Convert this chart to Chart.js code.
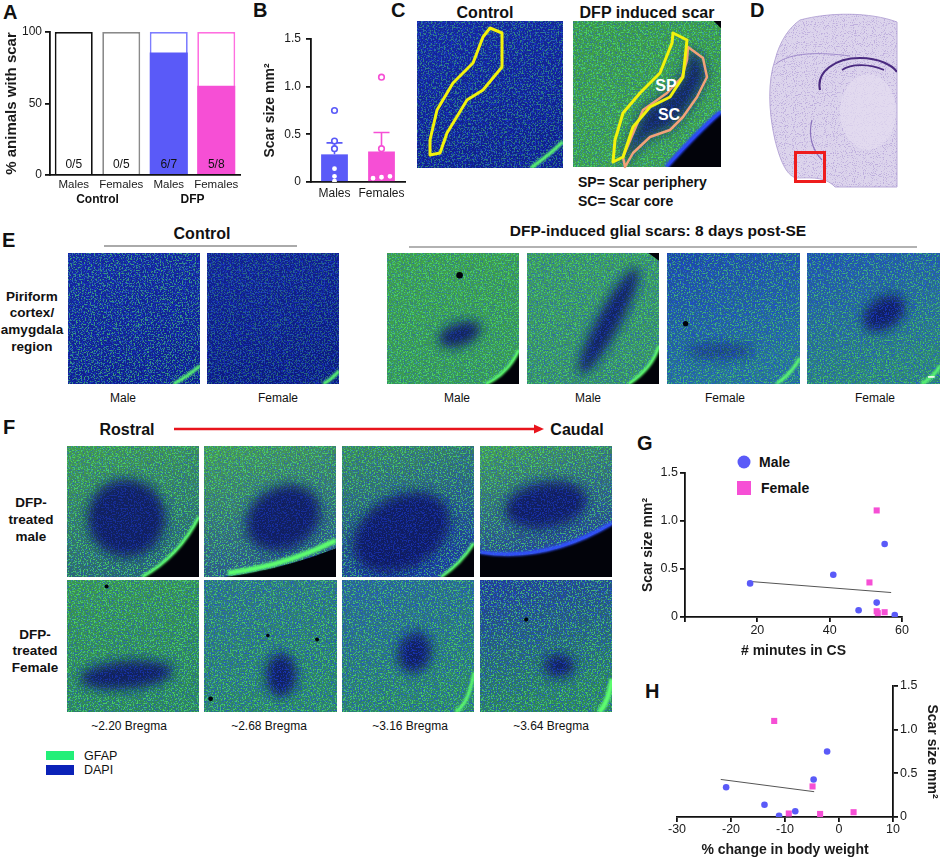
<!DOCTYPE html>
<html>
<head>
<meta charset="utf-8">
<script src="https://cdn.jsdelivr.net/npm/chart.js@4.4.1/dist/chart.umd.min.js"></script>
<style>
  html, body { margin: 0; padding: 0; background: #fff; }
  #page { position: relative; width: 941px; height: 860px; overflow: hidden; }
  #page canvas { position: absolute; }
  #deco { position: absolute; left: 0; top: 0; }
</style>
</head>
<body>
<div id="page">
  <svg id="deco" width="941" height="860" xmlns="http://www.w3.org/2000/svg"></svg>
  <canvas id="chartA" width="260" height="215" style="left:0;top:0"></canvas>
  <canvas id="chartB" width="180" height="210" style="left:250px;top:0"></canvas>
  <canvas id="chartG" width="311" height="230" style="left:630px;top:430px"></canvas>
  <canvas id="chartH" width="311" height="190" style="left:630px;top:670px"></canvas>
</div>
<script>
// ---- data ----

// A: % animals with scar
const groupA = ['Males', 'Females', 'Males', 'Females'];
const treatA = ['Control', 'DFP'];
const allPctA = [100, 100, 100, 100];
const scarPctA = [0, 0, 85.7, 62.5];
const countA = ['0/5', '0/5', '6/7', '5/8'];
const ticksPctA = [0, 50, 100];

// B: scar size per sex
const sexB = ['Males', 'Females'];
const meanB = [0.29, 0.32];
const semB = [0.12, 0.20];
const maleB = [0.75, 0.43, 0.35, 0.14, 0.06, 0.01];
const femaleB = [1.10, 0.35, 0.06, 0.05, 0.04];
const ticksScar = [0, 0.5, 1.0, 1.5];

// G: scar size vs minutes in CS
const maleMinG = [18, 41, 55.2, 48, 53, 58];
const maleScarG = [0.35, 0.44, 0.76, 0.07, 0.15, 0.02];
const femaleMinG = [53, 51, 53, 53.3, 55.2];
const femaleScarG = [1.11, 0.36, 0.06, 0.04, 0.05];
const fitG = [[18, 0.37], [57, 0.255]];
const ticksMinG = [0, 20, 40, 60];

// H: scar size vs % change in body weight
const maleWtH = [-20.9, -13.8, -11.1, -8.1, -4.7, -2.2];
const maleScarH = [0.34, 0.14, 0.015, 0.065, 0.43, 0.75];
const femaleWtH = [-12.0, -9.3, -4.9, -3.5, 2.7];
const femaleScarH = [1.10, 0.04, 0.35, 0.035, 0.055];
const fitH = [[-21.9, 0.43], [-4.6, 0.29]];
const ticksWtH = [-30, -20, -10, 0, 10];

// ---- colours ----
const BLUE = '#5a5af8', PINK = '#f64fd5', INK = '#111';
const FONT = "'Liberation Sans', Arial, sans-serif";

// ---- decoration: micrographs, labels, panel letters ----
let gid = 0;
function micro(x, y, w, h, p) {
  const id = 'mg' + (gid++);
  let s = `<svg x="${x}" y="${y}" width="${w}" height="${h}" viewBox="0 0 100 100" preserveAspectRatio="none">`;
  s += `<defs><linearGradient id="${id}" x1="0" y1="0" x2="0.3" y2="1"><stop offset="0" stop-color="${p.top}"/><stop offset="1" stop-color="${p.bot}"/></linearGradient></defs>`;
  s += `<rect width="100" height="100" fill="url(#${id})"/>`;
  s += `<rect width="100" height="100" filter="url(#nG)" opacity="${p.g}"/>`;
  (p.blobs || []).forEach(b => {
    s += `<ellipse cx="${b[0]}" cy="${b[1]}" rx="${b[2]}" ry="${b[3]}" transform="rotate(${b[4]} ${b[0]} ${b[1]})" fill="#0b1460" opacity="${b[5] || 0.9}" filter="url(#bl)"/>`;
  });
  if (p.scar) s += `<path d="${p.scar}" fill="#0b1460" opacity="0.85" filter="url(#bl)"/>`;
  s += `<rect width="100" height="100" filter="url(#nB)" opacity="${p.b}"/>`;
  if (p.black) s += `<path d="${p.black}" fill="#02030a"/>`;
  if (p.rim) s += `<path d="${p.rim}" fill="none" stroke="${p.rimColor || '#5dff6e'}" stroke-width="${p.rimW || 2.5}" filter="url(#bl2)"/>`;
  (p.dots || []).forEach(d => { s += `<circle cx="${d[0]}" cy="${d[1]}" r="${d[2]}" fill="#02030a"/>`; });
  if (p.bar) s += `<rect x="91" y="94" width="5" height="1.2" fill="#fff"/>`;
  return s + '</svg>';
}
function txt(x, y, str, size, weight, anchor, color) {
  return `<text x="${x}" y="${y}" font-family="${FONT}" font-size="${size}" font-weight="${weight || 'normal'}" text-anchor="${anchor || 'middle'}" dominant-baseline="central" fill="${color || '#111'}">${str}</text>`;
}

const ctrlLook = { top: '#15279c', bot: '#0f1f8c', g: 0.5, b: 0.45 };
let svg = `<defs>
  <filter id="nG" x="0" y="0" width="1" height="1" color-interpolation-filters="sRGB">
    <feTurbulence type="fractalNoise" baseFrequency="0.9" numOctaves="2" seed="4"/>
    <feColorMatrix type="matrix" values="0 0 0 0 0.3  0 0 0 0 0.85  0 0 0 0 0.45  10 0 0 0 -5.3"/>
    <feGaussianBlur stdDeviation="0.25"/>
  </filter>
  <filter id="nB" x="0" y="0" width="1" height="1" color-interpolation-filters="sRGB">
    <feTurbulence type="fractalNoise" baseFrequency="0.9" numOctaves="2" seed="11"/>
    <feColorMatrix type="matrix" values="0 0 0 0 0.12  0 0 0 0 0.25  0 0 0 0 0.95  10 0 0 0 -5.2"/>
    <feGaussianBlur stdDeviation="0.25"/>
  </filter>
  <filter id="nP" x="0" y="0" width="1" height="1" color-interpolation-filters="sRGB">
    <feTurbulence type="fractalNoise" baseFrequency="0.9" numOctaves="1" seed="2"/>
    <feColorMatrix type="matrix" values="0 0 0 0 0.6  0 0 0 0 0.5  0 0 0 0 0.8  8 0 0 0 -4.4"/>
  </filter>
  <filter id="bl" x="-50%" y="-50%" width="200%" height="200%"><feGaussianBlur stdDeviation="4"/></filter>
  <filter id="bl2" x="-20%" y="-20%" width="140%" height="140%"><feGaussianBlur stdDeviation="0.8"/></filter>
  <clipPath id="brainClip"><path d="M800,20 C830,12 870,12 897,22 L897,187 L835,187 C825,176 810,178 796,178 C786,175 780,160 775,140 C768,110 768,80 775,60 C780,40 790,27 800,20 Z"/></clipPath>
</defs>`;

// panel letters
[['A', 3, 12], ['B', 253, 10], ['C', 391, 10], ['D', 750, 10], ['E', 2, 240], ['F', 3, 427], ['G', 637, 443], ['H', 645, 691]]
  .forEach(l => { svg += txt(l[1], l[2], l[0], 20, 'bold', 'start'); });

// C
svg += txt(485, 12, 'Control', 16, 'bold');
svg += txt(647, 12, 'DFP induced scar', 16, 'bold');
svg += micro(417, 21, 146, 147, Object.assign({ rim: 'M78 100 Q92 90 100 82' }, ctrlLook));
svg += micro(573, 21, 148, 146, {
  top: '#3e9e45', bot: '#40a04a', g: 0.8, b: 0.35,
  scar: 'M77.7,17.8 L87.8,25.3 L90.5,38.4 L83.8,52.1 L74.3,65.8 L65.5,74.7 L52,79.5 L40.5,90.4 L35.1,100 L33.8,93.2 L47.3,61 L63.5,49.3 L73.6,38.4 L77,26.7 Z',
  black: 'M100 63 Q85 76 64 100 L100 100 Z M95 0 L100 0 L100 5 Z',
  rim: 'M100 62 Q85 75 63 100', rimColor: '#2a44ff', rimW: 3
});
svg += `<polygon transform="translate(417,21)" points="73,7 85,12 85,46 66,69 50,79 30,112 23,132 13,134 13,119 20,89 36,62 56,42 66,16" fill="none" stroke="#f2f20c" stroke-width="3" stroke-linejoin="round"/>`;
svg += `<polygon transform="translate(573,21)" points="115,26 130,37 134,56 124,76 110,96 97,109 77,116 60,132 52,146 50,136 70,89 94,72 109,56 114,39" fill="none" stroke="#f2a27a" stroke-width="2.5" stroke-linejoin="round"/>`;
svg += `<polygon transform="translate(573,21)" points="100,12 114,19 110,56 97,76 77,86 60,106 50,136 40,141 42,119 50,92 67,72 87,52 99,22" fill="none" stroke="#f2f20c" stroke-width="3" stroke-linejoin="round"/>`;
svg += txt(666, 85, 'SP', 16, 'bold', 'middle', '#fff');
svg += txt(669, 114, 'SC', 16, 'bold', 'middle', '#fff');
svg += txt(578, 182, 'SP= Scar periphery', 14, 'bold', 'start');
svg += txt(578, 201, 'SC= Scar core', 14, 'bold', 'start');

// D: brain section
svg += `<path d="M800,20 C830,12 870,12 897,22 L897,187 L835,187 C825,176 810,178 796,178 C786,175 780,160 775,140 C768,110 768,80 775,60 C780,40 790,27 800,20 Z" fill="#dcd4ec" stroke="#b9aad8" stroke-width="1"/>`;
svg += `<g clip-path="url(#brainClip)"><rect x="760" y="10" width="140" height="180" filter="url(#nP)" opacity="0.45"/>
  <ellipse cx="868" cy="112" rx="28" ry="38" fill="#e4ddf1" opacity="0.7"/>
  <path d="M776,64 C790,52 820,52 850,56" stroke="#a08ccb" stroke-width="1" fill="none"/>
  <path d="M820,90 C816,72 835,58 860,58 C880,58 893,66 897,72" stroke="#4a2a80" stroke-width="2.2" fill="none"/>
  <path d="M842,70 C852,63 870,64 884,70" stroke="#4a2a80" stroke-width="1.6" fill="none"/>
  <path d="M812,120 C808,135 812,150 822,160" stroke="#8a72bc" stroke-width="1.2" fill="none"/></g>`;
svg += `<rect x="795.5" y="152.5" width="29" height="29" fill="none" stroke="#ee1c1c" stroke-width="3"/>`;

// E
svg += txt(202, 233, 'Control', 16, 'bold');
svg += `<line x1="104" y1="246" x2="297" y2="246" stroke="#aaa" stroke-width="2"/>`;
svg += txt(658, 230, 'DFP-induced glial scars: 8 days post-SE', 15.5, 'bold');
svg += `<line x1="409" y1="247" x2="917" y2="247" stroke="#999" stroke-width="1.5"/>`;
['Piriform', 'cortex/', 'amygdala', 'region'].forEach((w, i) => { svg += txt(32, 296 + i * 16.7, w, 13.5, 'bold'); });
svg += micro(68, 253, 132, 131, Object.assign({ rim: 'M80 100 Q92 93 100 86' }, ctrlLook, { g: 0.65 }));
svg += micro(207, 253, 132, 131, Object.assign({ rim: 'M88 100 Q95 96 100 90' }, ctrlLook, { top: '#12228f', bot: '#0c1a80', g: 0.4 }));
svg += micro(387, 253, 132, 131, { top: '#41a348', bot: '#3a9c50', g: 0.8, b: 0.35, blobs: [[55, 62, 17, 9, -20]], black: 'M100 75 L100 100 L76 100 Q92 92 100 75 Z', rim: 'M100 74 Q92 92 75 100', dots: [[55, 17, 2.5]] });
svg += micro(527, 253, 132, 131, { top: '#40a058', bot: '#3a9460', g: 0.75, b: 0.45, blobs: [[62, 52, 9, 46, 28]], black: 'M100 72 L100 100 L78 100 Q95 88 100 72 Z M92 0 L100 0 L100 6 Z', rim: 'M100 71 Q95 88 77 100' });
svg += micro(667, 253, 133, 131, { top: '#1c4aa0', bot: '#287a8a', g: 0.65, b: 0.6, blobs: [[40, 75, 25, 6, 0, 0.5]], rim: 'M82 100 Q94 92 100 80', dots: [[14, 54, 2]] });
svg += micro(807, 253, 133, 131, { top: '#2055a6', bot: '#2f8a70', g: 0.65, b: 0.55, blobs: [[58, 46, 18, 12, -35]], rim: 'M86 100 Q96 94 100 86', bar: true });
[[123, 'Male'], [278, 'Female'], [457, 'Male'], [588, 'Male'], [725, 'Female'], [875, 'Female']]
  .forEach(l => { svg += txt(l[0], 398, l[1], 12); });

// F
svg += txt(127, 429, 'Rostral', 16, 'bold');
svg += txt(577, 429, 'Caudal', 16, 'bold');
svg += `<line x1="174" y1="429" x2="536" y2="429" stroke="#e8141c" stroke-width="2.5"/><polygon points="544,429 534,424.5 534,433.5" fill="#e8141c"/>`;
['DFP-', 'treated', 'male'].forEach((w, i) => { svg += txt(31, 502 + i * 17, w, 13.5, 'bold'); });
['DFP-', 'treated', 'Female'].forEach((w, i) => { svg += txt(35, 634 + i * 16.5, w, 13.5, 'bold'); });
const fx = [67, 204, 342, 480];
svg += micro(fx[0], 446, 132, 131, { top: '#46a148', bot: '#2a6a6a', g: 0.8, b: 0.4, blobs: [[45, 55, 30, 30, -40]], black: 'M100 55 L100 100 L58 100 Q85 85 100 55 Z', rim: 'M100 54 Q85 84 57 100' });
svg += micro(fx[1], 446, 132, 131, { top: '#4aa54a', bot: '#2c5a80', g: 0.8, b: 0.4, blobs: [[60, 55, 30, 24, -30]], black: 'M100 78 L100 100 L15 100 Q60 94 100 78 Z', rim: 'M100 72 Q60 92 18 97', rimW: 4 });
svg += micro(fx[2], 446, 132, 131, { top: '#3f9550', bot: '#1c3f90', g: 0.75, b: 0.45, blobs: [[45, 66, 40, 28, -30]], black: 'M100 75 L100 100 L76 100 Q90 90 100 75 Z', rim: 'M100 74 Q90 90 75 100' });
svg += micro(fx[3], 446, 132, 131, { top: '#4aa54a', bot: '#203a90', g: 0.8, b: 0.45, blobs: [[50, 45, 32, 18, -10]], black: 'M0 82 Q50 90 100 60 L100 100 L0 100 Z', rim: 'M0 81 Q50 89 100 59', rimColor: '#3050ff', rimW: 3 });
svg += micro(fx[0], 580, 132, 132, { top: '#3d9a4a', bot: '#2e8a55', g: 0.8, b: 0.45, blobs: [[45, 72, 36, 11, -5]], dots: [[30, 5, 1.5]] });
svg += micro(fx[1], 580, 133, 132, { top: '#2f7a78', bot: '#2e8a60', g: 0.75, b: 0.55, blobs: [[58, 72, 12, 17, 0]], dots: [[48, 42, 1.3], [85, 45, 1.5], [5, 90, 1.8]] });
svg += micro(fx[2], 580, 132, 132, { top: '#2a6a8a', bot: '#2e8a60', g: 0.75, b: 0.55, blobs: [[55, 55, 13, 16, 15]], rim: 'M100 70 Q96 94 86 100' });
svg += micro(fx[3], 580, 132, 132, { top: '#203a90', bot: '#2e8a55', g: 0.75, b: 0.55, blobs: [[60, 65, 12, 9, 0]], rim: 'M100 75 Q97 94 90 100', rimW: 4, dots: [[35, 30, 1.6]] });
[[129, '~2.20 Bregma'], [269, '~2.68 Bregma'], [410, '~3.16 Bregma'], [551, '~3.64 Bregma']]
  .forEach(l => { svg += txt(l[0], 726, l[1], 12); });
svg += `<rect x="46" y="751" width="28" height="9" fill="#22ef78"/><rect x="46" y="765" width="28" height="10" fill="#0b22b8"/>`;
svg += txt(84, 756, 'GFAP', 12.5, 'normal', 'start');
svg += txt(84, 770, 'DAPI', 12.5, 'normal', 'start');

// G legend
svg += `<circle cx="744" cy="462" r="6.5" fill="${BLUE}"/><rect x="737" y="481" width="14" height="14" fill="${PINK}"/>`;
svg += txt(759, 462, 'Male', 14, 'bold', 'start');
svg += txt(761, 488, 'Female', 14, 'bold', 'start');

document.getElementById('deco').innerHTML = svg;

// ---- charts ----
Chart.defaults.font.family = FONT;
Chart.defaults.color = '#1a1a1a';
Chart.defaults.animation = false;
Chart.defaults.plugins.legend.display = false;
Chart.defaults.plugins.tooltip.enabled = false;

const border = { color: INK, width: 1.8 };
const noGrid = { display: false, drawTicks: false, tickLength: 0 };
function tickMarks() {
  return { display: true, drawOnChartArea: false, drawTicks: true, tickLength: 5, color: INK, lineWidth: 1.8 };
}
function fixedTicks(vals) {
  return s => { s.ticks = vals.map(v => ({ value: v })); };
}
function scarLabel(v) { return v === 0 ? '0' : v.toFixed(1); }
function zip(xs, ys) { return xs.map((x, i) => ({ x: x, y: ys[i] })); }

// spread points that would sit on top of each other
function swarm(vals, gap, step) {
  const idx = vals.map((v, i) => i).sort((a, b) => vals[a] - vals[b]);
  const off = vals.map(() => 0);
  let group = [idx[0]];
  const flush = () => { group.forEach((k, j) => { off[k] = (j - (group.length - 1) / 2) * step; }); };
  for (let n = 1; n < idx.length; n++) {
    if (vals[idx[n]] - vals[idx[n - 1]] < gap) group.push(idx[n]);
    else { flush(); group = [idx[n]]; }
  }
  flush();
  return off;
}

// A
const outlineA = ['#111', '#8a8a8a', '#7d7dff', '#ff6fe0'];
const fillA = ['#fff', '#fff', BLUE, PINK];
const countPlugin = {
  id: 'counts',
  afterDatasetsDraw(chart) {
    const ctx = chart.ctx;
    ctx.save();
    ctx.font = '12px ' + FONT;
    ctx.fillStyle = '#111';
    ctx.textAlign = 'center';
    ctx.textBaseline = 'middle';
    chart.getDatasetMeta(0).data.forEach((bar, i) => ctx.fillText(countA[i], bar.x, chart.chartArea.bottom - 10));
    ctx.restore();
  }
};
const groupPlugin = {
  id: 'groups',
  afterDraw(chart) {
    const ctx = chart.ctx, x = chart.scales.x;
    ctx.save();
    ctx.font = 'bold 12px ' + FONT;
    ctx.fillStyle = '#111';
    ctx.textAlign = 'center';
    ctx.textBaseline = 'middle';
    treatA.forEach((t, g) => {
      const cx = (x.getPixelForValue(2 * g) + x.getPixelForValue(2 * g + 1)) / 2;
      ctx.fillText(t, cx, 200);
    });
    ctx.restore();
  }
};
new Chart(document.getElementById('chartA'), {
  type: 'bar',
  data: {
    labels: groupA,
    datasets: [
      { data: allPctA, backgroundColor: '#fff', borderColor: outlineA, borderWidth: 1.8, grouped: false, order: 2, barPercentage: 0.8, categoryPercentage: 1 },
      { data: scarPctA, backgroundColor: fillA, borderWidth: 0, grouped: false, order: 1, barPercentage: 0.8, categoryPercentage: 1 }
    ]
  },
  options: {
    responsive: false,
    layout: { padding: { top: 32, right: 20 } },
    scales: {
      x: { grid: noGrid, border: border, ticks: { font: { size: 11.5 }, padding: 3, maxRotation: 0, autoSkip: false }, afterFit: s => { s.height = 40; } },
      y: {
        min: 0, max: 100, afterBuildTicks: fixedTicks(ticksPctA),
        grid: tickMarks(), border: border, ticks: { font: { size: 12 }, padding: 3 },
        title: { display: true, text: '% animals with scar', font: { size: 15, weight: 'bold' }, padding: 3 },
        afterFit: s => { s.width = 50; }
      }
    }
  },
  plugins: [countPlugin, groupPlugin]
});

// B
const barColB = [BLUE, PINK];
function pointsDS(vals, cat, color, mean) {
  const off = swarm(vals, 0.03, 0.18);
  return {
    type: 'scatter', xAxisID: 'xj', order: 0,
    data: vals.map((v, i) => ({ x: cat + off[i], y: v })),
    pointRadius: vals.map(v => v > mean ? 2.8 : 1.6),
    pointBackgroundColor: '#fff',
    pointBorderColor: vals.map(v => v > mean ? color : '#fff'),
    pointBorderWidth: 1.6
  };
}
const errPlugin = {
  id: 'err',
  afterDatasetDraw(chart, args) {
    if (args.index !== 0) return;
    const ctx = chart.ctx, y = chart.scales.y;
    args.meta.data.forEach((bar, i) => {
      const top = y.getPixelForValue(meanB[i]), end = y.getPixelForValue(meanB[i] + semB[i]);
      ctx.save();
      ctx.strokeStyle = barColB[i];
      ctx.lineWidth = 1.6;
      ctx.beginPath();
      ctx.moveTo(bar.x, top); ctx.lineTo(bar.x, end);
      ctx.moveTo(bar.x - 8, end); ctx.lineTo(bar.x + 8, end);
      ctx.stroke();
      ctx.restore();
    });
  }
};
new Chart(document.getElementById('chartB'), {
  type: 'bar',
  data: {
    labels: sexB,
    datasets: [
      { data: meanB, backgroundColor: barColB, barPercentage: 0.57, categoryPercentage: 1, grouped: false, order: 2 },
      pointsDS(maleB, 0, BLUE, meanB[0]),
      pointsDS(femaleB, 1, PINK, meanB[1])
    ]
  },
  options: {
    responsive: false,
    layout: { padding: { top: 39, right: 25 } },
    scales: {
      x: { grid: noGrid, border: border, ticks: { font: { size: 12 }, padding: 4, maxRotation: 0, autoSkip: false }, afterFit: s => { s.height = 28; } },
      xj: {
        type: 'linear', position: 'bottom', min: -0.5, max: 1.5, offset: false,
        ticks: { display: false }, grid: { display: false, drawTicks: false, tickLength: 0, offset: false }, border: { display: false },
        afterFit: s => { s.height = 0; }
      },
      y: {
        min: 0, max: 1.5, afterBuildTicks: fixedTicks(ticksScar),
        ticks: { callback: scarLabel, font: { size: 12 }, padding: 5 },
        grid: tickMarks(), border: border,
        title: { display: true, text: 'Scar size mm²', font: { size: 14, weight: 'bold' }, padding: 11.6 },
        afterFit: s => { s.width = 61; }
      }
    }
  },
  plugins: [errPlugin]
});

// G and H share the point styling
function scatterSets(mx, my, fx, fy, fit) {
  return [
    { type: 'line', data: fit.map(p => ({ x: p[0], y: p[1] })), borderColor: '#555', borderWidth: 1, pointRadius: 0, order: 3 },
    { label: 'Male', data: zip(mx, my), pointStyle: 'circle', pointRadius: 3.3, backgroundColor: BLUE, borderColor: BLUE, borderWidth: 0, order: 1 },
    { label: 'Female', data: zip(fx, fy), pointStyle: 'rect', pointRadius: 4.3, backgroundColor: PINK, borderColor: PINK, borderWidth: 0, order: 2 }
  ];
}

new Chart(document.getElementById('chartG'), {
  type: 'scatter',
  data: { datasets: scatterSets(maleMinG, maleScarG, femaleMinG, femaleScarG, fitG) },
  options: {
    responsive: false,
    layout: { padding: { top: 43, right: 39 } },
    scales: {
      x: {
        type: 'linear', min: 0, max: 60, afterBuildTicks: fixedTicks(ticksMinG),
        ticks: { callback: v => v === 0 ? '' : v, font: { size: 12.5 }, padding: 1.5 },
        grid: tickMarks(), border: border,
        title: { display: true, text: '# minutes in CS', font: { size: 14, weight: 'bold' }, padding: 0 },
        afterFit: s => { s.height = 43; }
      },
      y: {
        min: 0, max: 1.5, afterBuildTicks: fixedTicks(ticksScar),
        ticks: { callback: scarLabel, font: { size: 12.5 }, padding: 2 },
        grid: tickMarks(), border: border,
        title: { display: true, text: 'Scar size mm²', font: { size: 14, weight: 'bold' }, padding: 9.6 },
        afterFit: s => { s.width = 55; }
      }
    }
  }
});

new Chart(document.getElementById('chartH'), {
  type: 'scatter',
  data: { datasets: scatterSets(maleWtH, maleScarH, femaleWtH, femaleScarH, fitH) },
  options: {
    responsive: false,
    layout: { padding: { top: 16, left: 47 } },
    scales: {
      x: {
        type: 'linear', min: -30, max: 10, afterBuildTicks: fixedTicks(ticksWtH),
        ticks: { font: { size: 12.5 }, padding: 0.5 },
        grid: tickMarks(), border: border,
        title: { display: true, text: '% change in body weight', font: { size: 14, weight: 'bold' }, padding: 1.6 },
        afterFit: s => { s.height = 43; }
      },
      y: {
        position: 'right', min: 0, max: 1.5, afterBuildTicks: fixedTicks(ticksScar),
        ticks: { callback: scarLabel, font: { size: 12.5 }, padding: 2 },
        grid: tickMarks(), border: border,
        title: { display: true, text: 'Scar size mm²', font: { size: 14, weight: 'bold' }, padding: 1 },
        afterFit: s => { s.width = 48; }
      }
    }
  }
});
</script>
</body>
</html>
